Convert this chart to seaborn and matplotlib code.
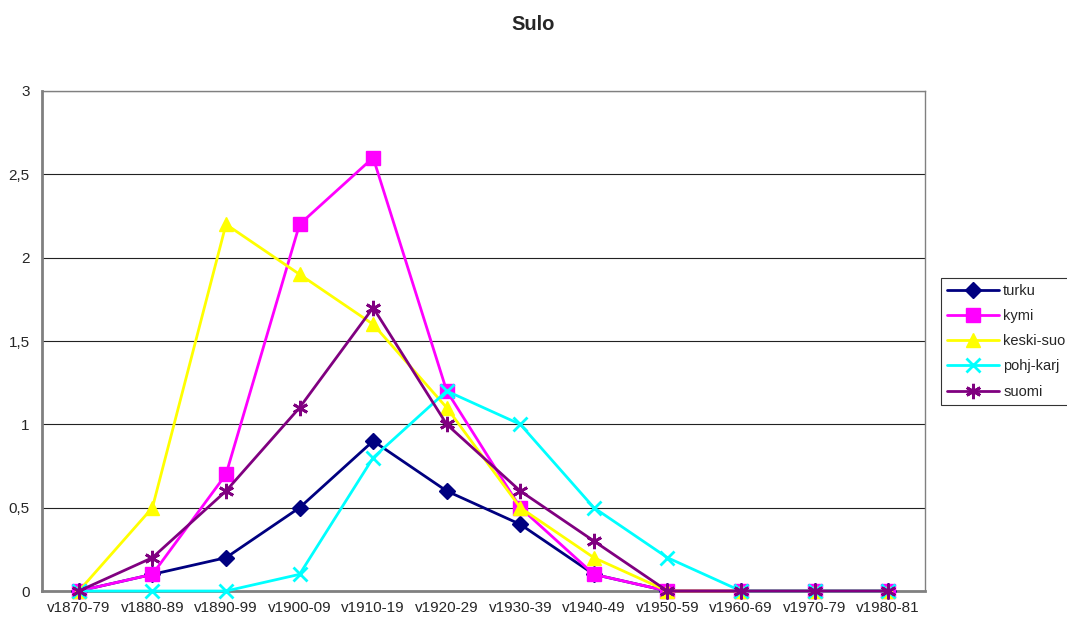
import matplotlib
matplotlib.use("Agg")
import matplotlib.pyplot as plt
import numpy as np
import pandas as pd
import seaborn as sns

periods = ["v1870-79", "v1880-89", "v1890-99", "v1900-09", "v1910-19", "v1920-29",
           "v1930-39", "v1940-49", "v1950-59", "v1960-69", "v1970-79", "v1980-81"]
turku = [0, 0.1, 0.2, 0.5, 0.9, 0.6, 0.4, 0.1, 0, 0, 0, 0]
kymi = [0, 0.1, 0.7, 2.2, 2.6, 1.2, 0.5, 0.1, 0, 0, 0, 0]
keski_suo = [0, 0.5, 2.2, 1.9, 1.6, 1.1, 0.5, 0.2, 0, 0, 0, 0]
pohj_karj = [0, 0, 0, 0.1, 0.8, 1.2, 1.0, 0.5, 0.2, 0, 0, 0]
suomi = [0, 0.2, 0.6, 1.1, 1.7, 1.0, 0.6, 0.3, 0, 0, 0, 0]

series = {"turku": turku, "kymi": kymi, "keski-suo": keski_suo,
          "pohj-karj": pohj_karj, "suomi": suomi}
colors = {"turku": "#000080", "kymi": "#FF00FF", "keski-suo": "#FFFF00",
          "pohj-karj": "#00FFFF", "suomi": "#800080"}
markers = {"turku": "D", "kymi": "s", "keski-suo": "^",
           "pohj-karj": "x", "suomi": (6, 2, 0)}
sizes = {"turku": 8, "kymi": 10, "keski-suo": 10, "pohj-karj": 10, "suomi": 11}

df = pd.concat([pd.DataFrame({"period": periods, "value": v, "region": k})
                for k, v in series.items()], ignore_index=True)

sns.set_style("white")
plt.rcParams["font.family"] = ["Liberation Sans", "DejaVu Sans"]

fig = plt.figure(figsize=(10.67, 6.19), dpi=100)
ax = fig.add_axes([0.0394, 0.0452, 0.8275, 0.8078])

for name in series:
    sub = df[df.region == name]
    mk = markers[name]
    sns.lineplot(data=sub, x="period", y="value", ax=ax, sort=False,
                 color=colors[name], marker=mk, markersize=sizes[name],
                 markeredgecolor=colors[name],
                 markeredgewidth=2 if mk == "x" or isinstance(mk, tuple) else 1,
                 linewidth=2, label=name, clip_on=False, zorder=3)

ax.set_xlim(-0.5, len(periods) - 0.5)
ax.set_ylim(0, 3)
ax.set_yticks(np.arange(0, 3.01, 0.5))
ax.set_yticklabels(["0", "0,5", "1", "1,5", "2", "2,5", "3"])
ax.set_xticks(range(len(periods)))
ax.set_xticklabels(periods)
ax.set_xticks(np.arange(-0.5, len(periods)), minor=True)
ax.tick_params(axis="x", which="major", length=0, labelsize=11, pad=7)
ax.tick_params(axis="x", which="minor", length=4, color="#808080", width=1, direction="out")
ax.tick_params(axis="y", length=4, color="#808080", width=1, direction="out",
               labelsize=11, pad=5)
ax.grid(axis="y", color="#222222", linewidth=0.8)
ax.set_axisbelow(True)
ax.set_xlabel("")
ax.set_ylabel("")
for side in ["top", "right"]:
    ax.spines[side].set_color("#808080")
    ax.spines[side].set_linewidth(1)
for side in ["left", "bottom"]:
    ax.spines[side].set_color("#808080")
    ax.spines[side].set_linewidth(2)

handles, labels = ax.get_legend_handles_labels()
if ax.get_legend():
    ax.get_legend().remove()
leg = fig.legend(handles, labels, loc="upper left", bbox_to_anchor=(0.882, 0.551),
                 frameon=True, fancybox=False, edgecolor="black", fontsize=10.5,
                 handlelength=3.6, labelspacing=0.77, borderpad=0.4, handletextpad=0.25,
                 borderaxespad=0)
leg.get_frame().set_linewidth(0.8)

fig.suptitle("Sulo", fontsize=14.5, fontweight="bold", x=0.5, y=0.975)

fig.savefig("out.png", dpi=100)
